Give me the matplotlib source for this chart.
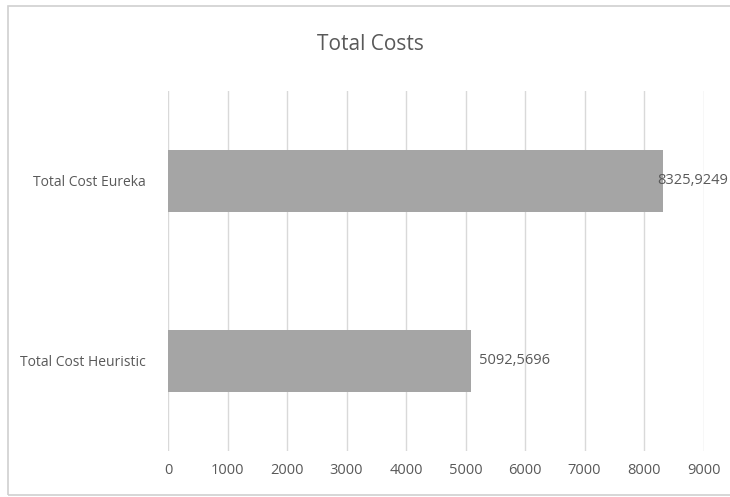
import matplotlib.pyplot as plt
from matplotlib.patches import Rectangle
from matplotlib import font_manager

# Totals per method (values from the cost model)
categories = ['Total Cost Heuristic', 'Total Cost Eureka']
totals = [5092.5696, 8325.9249]
value_labels = ['5092,5696', '8325,9249']
x_ticks = [0, 1000, 2000, 3000, 4000, 5000, 6000, 7000, 8000, 9000]

names = {f.name for f in font_manager.fontManager.ttflist}
family = ['Liberation Sans Narrow', 'DejaVu Sans'] if 'Liberation Sans Narrow' in names else ['Open Sans', 'DejaVu Sans']
plt.rcParams['font.family'] = family

text_grey = '#595959'
bar_grey = '#a5a5a5'
grid_grey = '#d9d9d9'

fig = plt.figure(figsize=(7.3, 4.97), dpi=100)
ax = fig.add_axes([168 / 730, 1 - 451 / 497, 535.5 / 730, 360 / 497])

# outer chart border (runs off the right edge)
fig.patches.append(Rectangle((8 / 730, 1 - 495 / 497), 1.0, 489 / 497,
                             transform=fig.transFigure, fill=False,
                             edgecolor='#d0d0d0', linewidth=1.2))

bars = ax.barh(categories, totals, height=0.345, color=bar_grey, zorder=3)

labels = []
for rect, lab in zip(bars, value_labels):
    t = ax.annotate(lab, (rect.get_width(), rect.get_y() + rect.get_height() / 2),
                    xytext=(6, 0), textcoords='offset points', ha='left', va='center',
                    fontsize=10.5, color=text_grey, annotation_clip=False)
    labels.append(t)

ax.set_xlim(0, 9000)
ax.set_ylim(-0.5, 1.5)
ax.set_xticks(x_ticks)
ax.set_xticklabels([str(t) for t in x_ticks])
ax.tick_params(axis='x', length=0, pad=9, labelsize=10.5, labelcolor=text_grey)
ax.tick_params(axis='y', length=0, pad=16, labelsize=10, labelcolor=text_grey)
ax.grid(axis='x', color=grid_grey, linewidth=1, zorder=0)
for s in ax.spines.values():
    s.set_visible(False)

fig.text(370 / 730, 1 - 45 / 497, 'Total Costs', ha='center', va='center',
         fontsize=15, color=text_grey)

# pull data labels back inside the chart when they would run off the edge
fig.canvas.draw()
renderer = fig.canvas.get_renderer()
fig_w = fig.bbox.width
for t in labels:
    bb = t.get_window_extent(renderer)
    over = bb.x1 - (fig_w - 2)
    if over > 0:
        x, y = t.get_position()
        t.set_position((x - over * 72 / fig.dpi, y))

fig.savefig('out.png', dpi=100)
